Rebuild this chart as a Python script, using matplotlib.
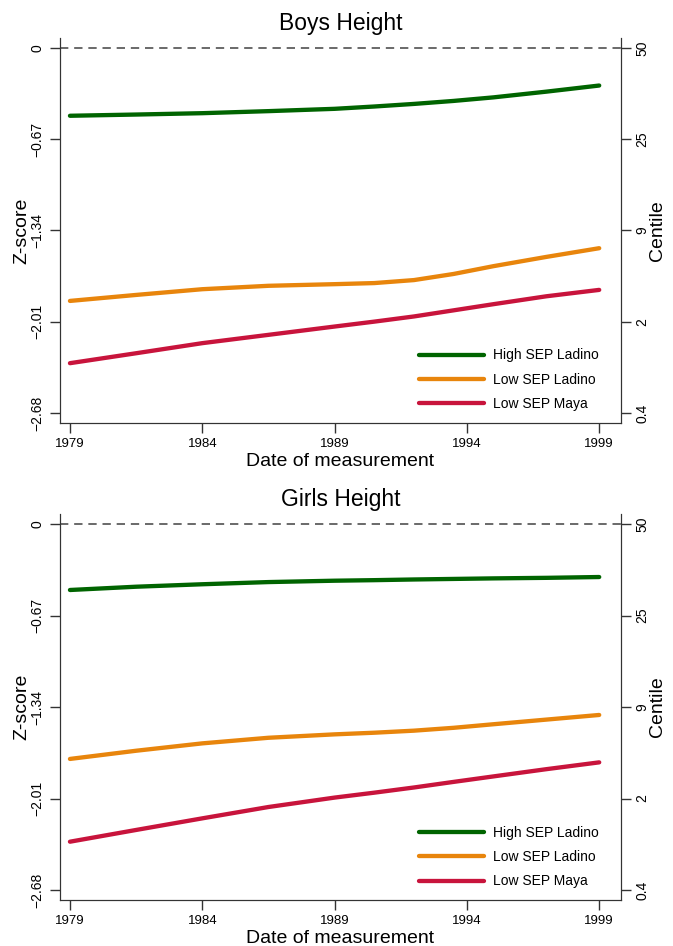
import matplotlib
matplotlib.use("Agg")
import matplotlib.pyplot as plt

plt.rcParams["font.family"] = ["Liberation Sans", "DejaVu Sans"]

years = [1979, 1981.5, 1984, 1986.5, 1989, 1990.5, 1992, 1993.5, 1995, 1997, 1999]

boys_high_ladino = [-0.499, -0.490, -0.480, -0.465, -0.448, -0.431, -0.412, -0.390, -0.364, -0.322, -0.277]
boys_low_ladino = [-1.858, -1.814, -1.772, -1.747, -1.735, -1.727, -1.705, -1.660, -1.603, -1.535, -1.471]
boys_low_maya = [-2.315, -2.242, -2.168, -2.107, -2.046, -2.010, -1.972, -1.927, -1.882, -1.824, -1.777]

girls_high_ladino = [-0.483, -0.459, -0.441, -0.425, -0.415, -0.411, -0.406, -0.402, -0.398, -0.394, -0.388]
girls_low_ladino = [-1.720, -1.660, -1.606, -1.565, -1.540, -1.528, -1.513, -1.492, -1.466, -1.432, -1.398]
girls_low_maya = [-2.326, -2.240, -2.155, -2.072, -2.003, -1.967, -1.929, -1.888, -1.848, -1.795, -1.745]

series_names = ["High SEP Ladino", "Low SEP Ladino", "Low SEP Maya"]
series_colors = ["#006400", "#E8850C", "#C8143C"]

x_ticks = [1979, 1984, 1989, 1994, 1999]
z_ticks = [0, -0.67, -1.34, -2.01, -2.68]
z_labels = ["0", "\u22120.67", "\u22121.34", "\u22122.01", "\u22122.68"]
centile_labels = ["50", "25", "9", "2", "0.4"]


def plot_panel(ax, title, curves):
    ax.axhline(0, color="#505050", lw=1.2, dashes=(5, 3.5), zorder=1)
    for vals, name, col in zip(curves, series_names, series_colors):
        ax.plot(years, vals, color=col, lw=3.1, label=name,
                solid_capstyle="round", solid_joinstyle="round")

    ax.set_xlim(1978.62, 1999.83)
    ax.set_ylim(-2.753, 0.073)
    ax.set_xticks(x_ticks)
    ax.set_xticklabels([str(t) for t in x_ticks], fontsize=9.5)
    ax.set_yticks(z_ticks)
    ax.set_yticklabels(z_labels, fontsize=10, rotation=90, va="center")
    ax.tick_params(direction="out", length=7, width=1, color="#333333", pad=4)
    ax.set_xlabel("Date of measurement", fontsize=14, labelpad=2)
    ax.set_ylabel("Z-score", fontsize=14, labelpad=0)
    ax.set_title(title, fontsize=16.5, pad=6)
    ax.spines["top"].set_visible(False)
    for s in ["left", "right", "bottom"]:
        ax.spines[s].set_color("#333333")

    ax2 = ax.twinx()
    ax2.set_ylim(ax.get_ylim())
    ax2.set_yticks(z_ticks)
    ax2.set_yticklabels(centile_labels, fontsize=10, rotation=90, va="center")
    ax2.tick_params(direction="out", length=7, width=1, color="#333333", pad=3)
    ax2.set_ylabel("Centile", fontsize=14, rotation=90, labelpad=0)
    ax2.spines["top"].set_visible(False)
    for s in ["left", "right", "bottom"]:
        ax2.spines[s].set_color("#333333")

    ax.legend(loc="lower left", bbox_to_anchor=(0.64, 0.03), frameon=False,
              fontsize=10, handlelength=4.7, handletextpad=0.65,
              labelspacing=0.75, borderpad=0, borderaxespad=0)


fig = plt.figure(figsize=(6.73, 9.46), dpi=100)
ax_top = fig.add_axes([0.089, 0.553, 0.834, 0.407])
ax_bot = fig.add_axes([0.089, 0.0486, 0.834, 0.408])

plot_panel(ax_top, "Boys Height", [boys_high_ladino, boys_low_ladino, boys_low_maya])
plot_panel(ax_bot, "Girls Height", [girls_high_ladino, girls_low_ladino, girls_low_maya])

fig.savefig("out.png", dpi=100)
